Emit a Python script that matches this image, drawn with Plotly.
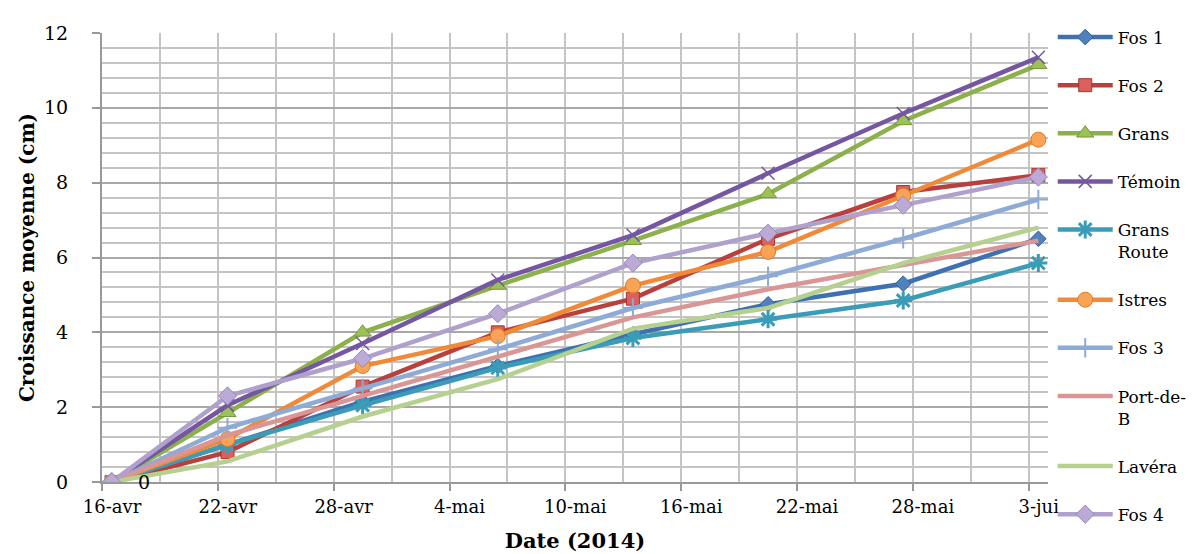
import plotly.graph_objects as go
import pandas as pd

dates = ["2014-04-16", "2014-04-22", "2014-04-29", "2014-05-06",
         "2014-05-13", "2014-05-20", "2014-05-27", "2014-06-03"]

fos1 = [0, 1.0, 2.15, 3.1, 3.95, 4.75, 5.3, 6.5]
fos2 = [0, 0.8, 2.55, 4.0, 4.9, 6.5, 7.75, 8.2]
grans = [0, 1.85, 4.0, 5.25, 6.45, 7.7, 9.65, 11.15]
temoin = [0, 2.05, 3.7, 5.4, 6.6, 8.25, 9.85, 11.35]
grans_route = [0, 1.0, 2.05, 3.05, 3.85, 4.35, 4.85, 5.85]
istres = [0, 1.15, 3.1, 3.9, 5.25, 6.15, 7.65, 9.15]
fos3 = [0, 1.45, 2.5, 3.55, 4.65, 5.5, 6.5, 7.55]
port_de_b = [0, 1.25, 2.3, 3.35, 4.4, 5.15, 5.8, 6.45]
lavera = [0, 0.55, 1.75, 2.75, 4.1, 4.65, 5.85, 6.8]
fos4 = [0, 2.3, 3.3, 4.5, 5.85, 6.65, 7.4, 8.15]

tick_dates = ["2014-04-16", "2014-04-22", "2014-04-28", "2014-05-04", "2014-05-10",
              "2014-05-16", "2014-05-22", "2014-05-28", "2014-06-03"]
tick_labels = ["16-avr", "22-avr", "28-avr", "4-mai", "10-mai",
               "16-mai", "22-mai", "28-mai", "3-jui"]

# Points are plotted in the middle of their day (Excel date axis, between tick marks)
x = pd.to_datetime(dates) + pd.Timedelta(hours=12)

series = [
    ("Fos 1", fos1, "#3E70B2", dict(symbol="diamond", size=12, color="#4F81BD", line=dict(color="#3560A0", width=1))),
    ("Fos 2", fos2, "#B8413E", dict(symbol="square", size=13, color="#D9605C", line=dict(color="#A63532", width=1))),
    ("Grans", grans, "#8CB04A", dict(symbol="triangle-up", size=15, color="#9BC255", line=dict(color="#76963C", width=1))),
    ("Témoin", temoin, "#7457A0", dict(symbol="x-thin-open", size=13, color="#7457A0", line=dict(color="#7457A0", width=1.5))),
    ("Grans<br>Route", grans_route, "#3A9CB6", dict(symbol="asterisk-open", size=15, color="#3A9CB6", line=dict(color="#3A9CB6", width=3))),
    ("Istres", istres, "#F08A38", dict(symbol="circle", size=15, color="#F9A356", line=dict(color="#E07A28", width=1))),
    ("Fos 3", fos3, "#8EAAD6", dict(symbol="cross-thin-open", size=14, color="#8EAAD6", line=dict(color="#8EAAD6", width=2))),
    ("Port-de-<br>B", port_de_b, "#D99694", None),
    ("Lavéra", lavera, "#B6D08F", None),
    ("Fos 4", fos4, "#B0A0CC", dict(symbol="diamond", size=14, color="#BBAAD6", line=dict(color="#9A88BB", width=1))),
]

fig = go.Figure()
for i, (name, vals, color, marker) in enumerate(series):
    fig.add_trace(go.Scatter(
        x=x, y=vals, name=name,
        mode="lines+markers" if marker else "lines",
        line=dict(color=color, width=4.5),
        marker=marker if marker else None,
        legendgroup=f"g{i}",
    ))

fig.add_annotation(x=x[0], y=0, text="0", showarrow=False, xshift=32,
                   font=dict(family="DejaVu Serif", size=19, color="#000"))

grid_major = "#A8A8A8"
grid_minor = "#C4C4C4"

fig.update_layout(
    width=1196, height=554,
    margin=dict(l=94, r=143, t=25, b=80),
    paper_bgcolor="white", plot_bgcolor="white",
    font=dict(family="DejaVu Serif", size=18, color="#000"),
    showlegend=True,
    legend=dict(
        x=1.005, xanchor="left", y=1.03, yanchor="top",
        font=dict(family="DejaVu Serif", size=17, color="#000"),
        itemwidth=55, tracegroupgap=23, valign="top",
        bgcolor="rgba(0,0,0,0)",
        maxheight=600,
    ),
    xaxis=dict(
        type="date",
        range=["2014-04-16", "2014-06-04"],
        tickmode="array", tickvals=tick_dates, ticktext=tick_labels,
        ticklabelshift=10,
        ticks="outside", ticklen=7, tickwidth=2, tickcolor="#999999",
        showgrid=True, gridcolor=grid_minor, gridwidth=2,
        minor=dict(tick0="2014-04-16", dtick=3 * 86400000, showgrid=True,
                   gridcolor=grid_minor, gridwidth=2, ticks=""),
        showline=True, linecolor="#999999", linewidth=2,
        zeroline=False,
        tickfont=dict(family="DejaVu Serif", size=18),
        title=dict(text="<b>Date (2014)</b>", standoff=18,
                   font=dict(family="DejaVu Serif", size=21)),
    ),
    yaxis=dict(
        range=[0, 12], dtick=2, tick0=0,
        ticks="outside", ticklen=8, tickwidth=2, tickcolor="#999999",
        showgrid=True, gridcolor=grid_major, gridwidth=2,
        minor=dict(dtick=0.4, tick0=0, showgrid=True, gridcolor=grid_minor,
                   gridwidth=2, ticks=""),
        showline=True, linecolor="#999999", linewidth=2,
        zeroline=False,
        ticklabelstandoff=20,
        tickfont=dict(family="DejaVu Serif", size=19),
        title=dict(text="<b>Croissance moyenne (cm)</b>", standoff=4,
                   font=dict(family="DejaVu Serif", size=20)),
    ),
)

fig.write_html("out.html")
